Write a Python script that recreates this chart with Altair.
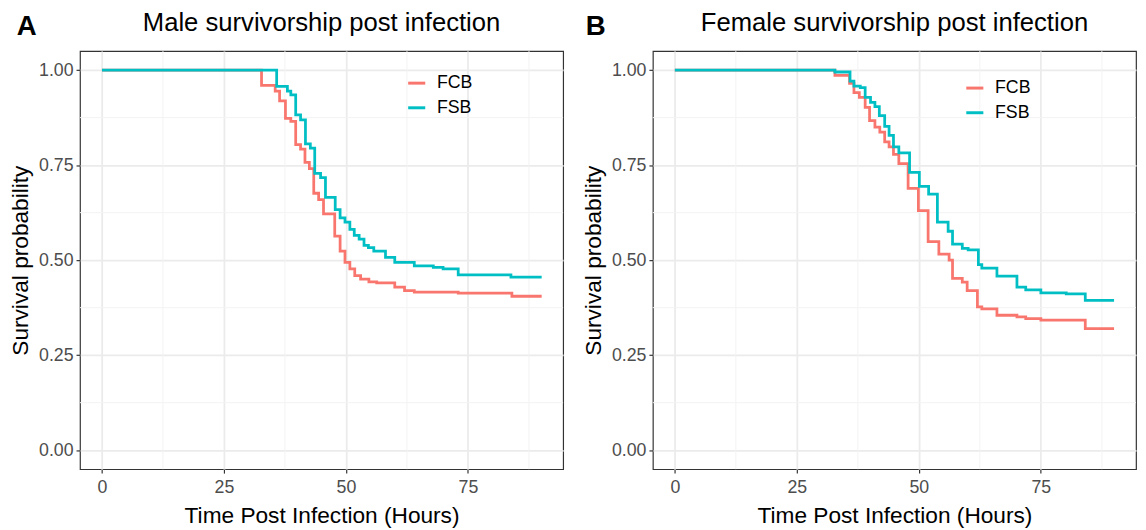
import altair as alt
import pandas as pd

# ---- Panel A: male survivorship ----
male_fcb_time = [0, 32.7, 35.5, 36.4, 37.6, 38.7, 39.7, 40.7, 41.6, 42.5, 43.4, 44.4, 45.4, 47.7, 48.8,
                 49.8, 50.8, 51.8, 53.0, 54.7, 56.3, 60.0, 62.0, 64.0, 73.0, 84.0, 90.1]
male_fcb_surv = [1.0, 0.96, 0.945, 0.919, 0.873, 0.865, 0.804, 0.792, 0.757, 0.741, 0.676, 0.659, 0.622, 0.563, 0.524,
                 0.494, 0.477, 0.459, 0.45, 0.443, 0.44, 0.429, 0.42, 0.416, 0.413, 0.405, 0.405]
male_fsb_time = [0, 35.8, 38.0, 38.7, 39.7, 40.7, 41.7, 42.7, 43.6, 44.8, 45.8, 47.8, 48.8, 49.8, 50.8,
                 51.7, 52.7, 53.7, 54.6, 55.7, 58.1, 60.0, 64.0, 67.9, 69.9, 73.0, 83.8, 90.1]
male_fsb_surv = [1.0, 0.957, 0.945, 0.935, 0.882, 0.869, 0.806, 0.795, 0.728, 0.717, 0.665, 0.633, 0.611, 0.6, 0.581,
                 0.565, 0.555, 0.539, 0.533, 0.524, 0.507, 0.494, 0.485, 0.481, 0.477, 0.461, 0.455, 0.455]

# ---- Panel B: female survivorship ----
female_fcb_time = [0, 32.8, 35.8, 36.7, 37.8, 39.0, 39.9, 41.0, 42.0, 43.0, 43.9, 44.8, 45.9, 47.8, 49.9,
                   51.9, 54.1, 56.2, 56.9, 58.9, 59.9, 62.0, 62.9, 66.0, 70.1, 71.9, 75.0, 84.1, 90.0]
female_fcb_surv = [1.0, 0.986, 0.965, 0.941, 0.928, 0.902, 0.867, 0.85, 0.837, 0.811, 0.798, 0.778, 0.754, 0.689, 0.63,
                   0.549, 0.516, 0.5, 0.452, 0.442, 0.42, 0.377, 0.372, 0.355, 0.351, 0.346, 0.342, 0.32, 0.32]
female_fsb_time = [0, 32.8, 35.9, 36.7, 38.0, 39.0, 40.1, 41.0, 41.9, 43.0, 43.9, 44.8, 45.9, 48.1, 50.1,
                   52.0, 53.8, 56.0, 56.9, 58.9, 60.1, 62.2, 62.9, 66.0, 70.1, 71.9, 75.0, 80.2, 84.1, 90.0]
female_fsb_surv = [1.0, 0.995, 0.971, 0.958, 0.954, 0.928, 0.915, 0.904, 0.88, 0.852, 0.828, 0.798, 0.782, 0.731, 0.694,
                   0.674, 0.6, 0.576, 0.542, 0.531, 0.527, 0.488, 0.479, 0.458, 0.429, 0.422, 0.414, 0.411, 0.394, 0.394]

groups = ["FCB", "FSB"]
colors = ["#F8766D", "#00BFC4"]
x_ticks = [0, 25, 50, 75]
y_ticks = [0.0, 0.25, 0.5, 0.75, 1.0]
x_minor = [12.5, 37.5, 62.5, 87.5]
y_minor = [0.125, 0.375, 0.625, 0.875]

FONT = "Liberation Sans"
W, H = 490, 424


def make_df(t1, s1, t2, s2):
    rows = []
    for t, s in zip(t1, s1):
        rows.append({"time": t, "surv": s, "group": groups[0]})
    for t, s in zip(t2, s2):
        rows.append({"time": t, "surv": s, "group": groups[1]})
    return pd.DataFrame(rows)


def panel(df, title, tag, lx, ly, tag_x):
    x_enc = alt.X("time:Q",
                  scale=alt.Scale(domain=[-4.5, 94.5], nice=False, zero=False),
                  axis=alt.Axis(values=x_ticks, format="d", title="Time Post Infection (Hours)",
                                labelPadding=6, titlePadding=8))
    y_enc = alt.Y("surv:Q",
                  scale=alt.Scale(domain=[-0.05, 1.05], nice=False, zero=False),
                  axis=alt.Axis(values=y_ticks, format=".2f", title="Survival probability"))

    vminor = alt.Chart(pd.DataFrame({"time": x_minor})).mark_rule(
        color="#F3F3F3", strokeWidth=1).encode(x=x_enc)
    hminor = alt.Chart(pd.DataFrame({"surv": y_minor})).mark_rule(
        color="#F3F3F3", strokeWidth=1).encode(y=y_enc)

    lines = alt.Chart(df).mark_line(interpolate="step-after", strokeWidth=2.8, clip=True).encode(
        x=x_enc,
        y=y_enc,
        color=alt.Color("group:N",
                        scale=alt.Scale(domain=groups, range=colors),
                        legend=alt.Legend(title=None, orient="none", legendX=lx, legendY=ly,
                                          symbolType="stroke", symbolStrokeWidth=3, symbolSize=300,
                                          labelFontSize=18, labelFont=FONT, labelColor="black",
                                          labelOffset=10, rowPadding=5, padding=0)),
        detail="group:N",
    )

    labels = pd.DataFrame({"txt": [tag, title], "kind": ["tag", "title"]})
    tag_mark = alt.Chart(labels).transform_filter(alt.datum.kind == "tag").mark_text(
        fontSize=28, fontWeight="bold", font=FONT, align="left", baseline="alphabetic", color="black"
    ).encode(text="txt:N", x=alt.value(tag_x), y=alt.value(-16))
    title_mark = alt.Chart(labels).transform_filter(alt.datum.kind == "title").mark_text(
        fontSize=26, font=FONT, align="center", baseline="alphabetic", color="black"
    ).encode(text="txt:N", x=alt.value(W / 2), y=alt.value(-20))

    return alt.layer(vminor, hminor, lines, tag_mark, title_mark).properties(width=W, height=H)


male_df = make_df(male_fcb_time, male_fcb_surv, male_fsb_time, male_fsb_surv)
female_df = make_df(female_fcb_time, female_fcb_surv, female_fsb_time, female_fsb_surv)

pA = panel(male_df, "Male survivorship post infection", "A", 331, 22, -64)
pB = panel(female_df, "Female survivorship post infection", "B", 316, 27, -68)

chart = alt.hconcat(pA, pB, spacing=17).resolve_legend(color="independent").configure_view(
    stroke="#333333", strokeWidth=1.2
).configure_axis(
    labelFont=FONT, labelFontSize=18, labelColor="#4D4D4D", labelPadding=3,
    titleFont=FONT, titleFontSize=23, titleFontWeight="normal", titleColor="black", titlePadding=6,
    tickColor="#333333", tickSize=4, tickWidth=1.2,
    gridColor="#EBEBEB", gridWidth=1.8, domain=False,
).properties(padding={"left": 1, "top": -2, "right": 0, "bottom": 0})

chart.save("out.html", embed_options={"renderer": "svg", "actions": False})
